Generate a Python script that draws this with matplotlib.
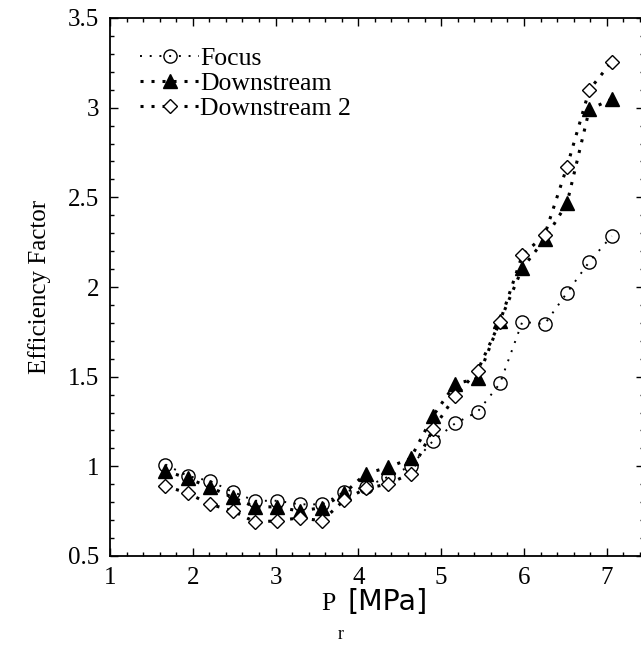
import matplotlib
matplotlib.use("Agg")
import matplotlib.pyplot as plt
from matplotlib.ticker import MultipleLocator

# ---- data ----
pr = [1.67, 1.94, 2.21, 2.48, 2.75, 3.02, 3.29, 3.56, 3.83, 4.09, 4.36,
      4.63, 4.90, 5.17, 5.44, 5.71, 5.98, 6.25, 6.52, 6.79, 7.06]
focus = [1.01, 0.946, 0.918, 0.858, 0.808, 0.808, 0.788, 0.788, 0.858, 0.886, 0.942,
         1.001, 1.141, 1.24, 1.304, 1.462, 1.806, 1.793, 1.968, 2.141, 2.284]
downstream = [0.975, 0.933, 0.883, 0.827, 0.774, 0.774, 0.75, 0.77, 0.85, 0.96, 0.994,
              1.044, 1.28, 1.46, 1.49, 1.81, 2.104, 2.266, 2.467, 2.99, 3.048]
downstream2 = [0.89, 0.85, 0.788, 0.752, 0.69, 0.696, 0.713, 0.696, 0.812, 0.877, 0.901,
               0.96, 1.206, 1.392, 1.533, 1.806, 2.178, 2.29, 2.671, 3.10, 3.256]
labels = ["Focus", "Downstream", "Downstream 2"]

W, H = 641, 645
fig = plt.figure(figsize=(W / 100, H / 100), dpi=100)
L, R, T, B = 110, 644, 18, 556
ax = fig.add_axes([L / W, 1 - B / H, (R - L) / W, (B - T) / H])

serif = "Liberation Serif"

ax.plot(pr, focus, color="black", lw=1.4, linestyle=(0, (1, 4)),
        marker="o", ms=9.5, mfc="none", mec="black", mew=1.0, label=labels[0])
ax.plot(pr, downstream, color="black", lw=2.2, linestyle=(0, (1, 2.6)),
        marker="^", ms=10, mfc="black", mec="black", mew=1.0, label=labels[1])
ax.plot(pr, downstream2, color="black", lw=2.2, linestyle=(0, (1, 2.6)),
        marker="D", ms=7.5, mfc="white", mec="black", mew=1.0, label=labels[2])

ax.set_xlim(1, 7.45)
ax.set_ylim(0.5, 3.5)
ax.xaxis.set_major_locator(MultipleLocator(1))
ax.xaxis.set_minor_locator(MultipleLocator(0.2))
ax.yaxis.set_minor_locator(MultipleLocator(0.1))
ax.set_yticks([0.5, 1, 1.5, 2, 2.5, 3, 3.5])
ax.set_yticklabels(["0.5", "1", "1.5", "2", "2.5", "3", "3.5"])
ax.tick_params(which="both", direction="in", top=True, right=True, width=1.0)
ax.tick_params(which="major", length=6, labelsize=18, pad=8)
ax.tick_params(which="minor", length=3)
for lab in ax.get_xticklabels() + ax.get_yticklabels():
    lab.set_family(serif)
for s in ax.spines.values():
    s.set_linewidth(1.3)

ax.set_ylabel("Efficiency Factor", family=serif, fontsize=18, labelpad=12)

# x label: P, subscript r, [MPa]
fig.text(321 / W, 1 - 610 / H, "P", family=serif, fontsize=18.5, ha="left", va="baseline")
fig.text(338 / W, 1 - 639 / H, "r", family=serif, fontsize=13, ha="left", va="baseline")
fig.text(347 / W, 1 - 610 / H, "[MPa]", family="DejaVu Sans", fontsize=20.5, ha="left", va="baseline")

leg = ax.legend(loc="upper left", bbox_to_anchor=(140 / W, 1 - 47 / H),
                bbox_transform=fig.transFigure, frameon=False, borderaxespad=0,
                borderpad=0, handlelength=2.3, handletextpad=0.05, labelspacing=0.08,
                prop={"family": serif, "size": 18.5})

fig.savefig("out.png", dpi=100)
